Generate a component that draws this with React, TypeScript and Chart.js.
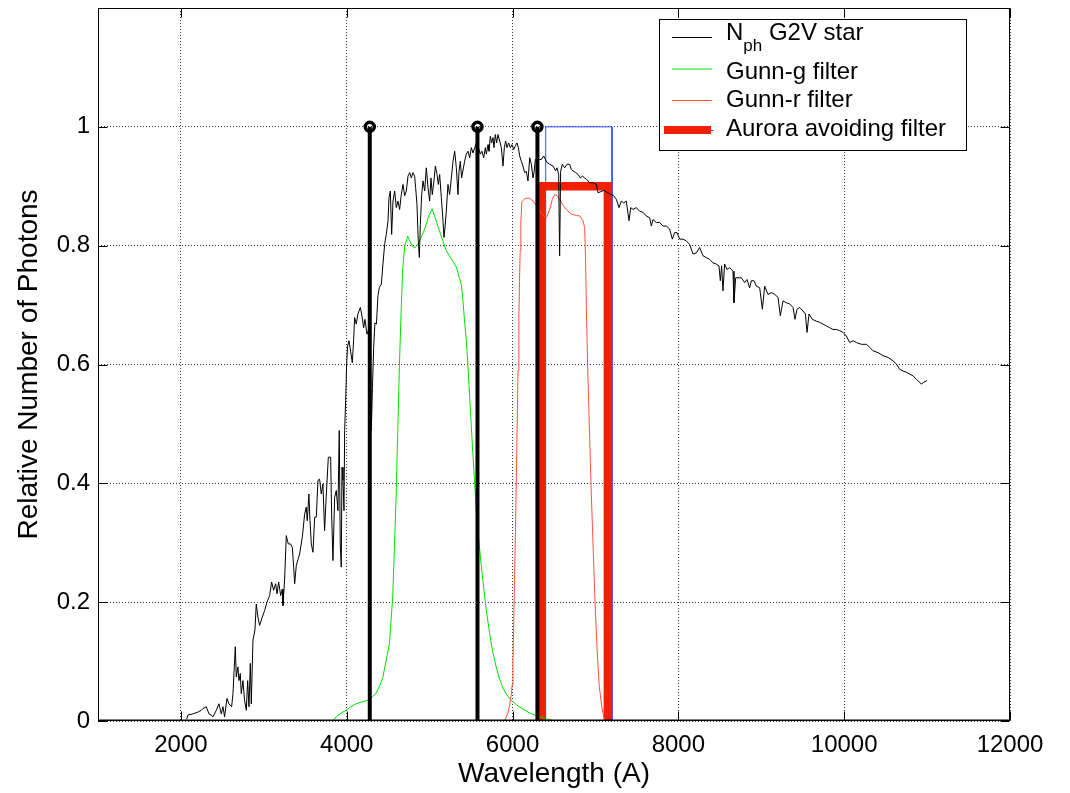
import React, { useEffect, useRef } from 'react';
import { Chart, registerables } from 'chart.js';

Chart.register(...registerables);

// ---------- data ----------
const starWavelength = [
  2070, 2085, 2145, 2206, 2246, 2266, 2306, 2338, 2366, 2386, 2427, 2459, 2487, 2507, 2527, 2555, 2579, 2612, 2628, 2640,
  2656, 2668, 2688, 2700, 2716, 2728, 2748, 2768, 2789, 2805, 2821, 2837, 2849, 2869, 2893, 2909, 2929, 2949, 2982, 3010,
  3038, 3070, 3094, 3118, 3143, 3159, 3179, 3203, 3223, 3231, 3251, 3271, 3295, 3323, 3344, 3360, 3372, 3392, 3432, 3464,
  3492, 3512, 3524, 3544, 3557, 3573, 3593, 3613, 3633, 3653, 3673, 3693, 3713, 3733, 3754, 3778, 3806, 3818, 3834, 3854,
  3874, 3894, 3910, 3922, 3934, 3943, 3955, 3967, 3975, 3987, 3999, 4011, 4027, 4043, 4067, 4083, 4095, 4115, 4135, 4164,
  4180, 4204, 4220, 4244, 4260, 4282, 4297, 4310, 4325, 4340, 4358, 4377, 4394, 4417, 4437, 4457, 4477, 4498, 4510, 4526,
  4542, 4558, 4578, 4598, 4618, 4638, 4658, 4679, 4699, 4719, 4739, 4759, 4779, 4799, 4819, 4831, 4847, 4863, 4876, 4888,
  4904, 4920, 4940, 4960, 4980, 5000, 5016, 5032, 5052, 5069, 5089, 5105, 5121, 5141, 5161, 5173, 5185, 5201, 5221, 5241,
  5262, 5282, 5302, 5322, 5342, 5354, 5370, 5386, 5422, 5442, 5463, 5483, 5503, 5523, 5563, 5595, 5611, 5631, 5652, 5672,
  5684, 5704, 5716, 5732, 5748, 5764, 5776, 5792, 5808, 5824, 5845, 5865, 5885, 5901, 5917, 5933, 5953, 5973, 5993, 6014,
  6034, 6054, 6070, 6086, 6106, 6126, 6146, 6166, 6186, 6207, 6227, 6247, 6259, 6275, 6295, 6327, 6347, 6375, 6415, 6448,
  6488, 6520, 6536, 6556, 6568, 6580, 6600, 6629, 6657, 6689, 6709, 6729, 6761, 6789, 6818, 6842, 6870, 6890, 6930, 6970,
  7011, 7031, 7100, 7160, 7220, 7252, 7284, 7312, 7340, 7372, 7405, 7425, 7453, 7493, 7533, 7573, 7613, 7654, 7674, 7694,
  7734, 7774, 7815, 7855, 7895, 7927, 7955, 7983, 8016, 8056, 8096, 8136, 8176, 8217, 8257, 8297, 8337, 8377, 8418, 8458,
  8490, 8506, 8522, 8538, 8558, 8586, 8619, 8659, 8671, 8691, 8719, 8759, 8800, 8828, 8860, 8880, 8912, 8940, 8981, 9013,
  9041, 9081, 9121, 9162, 9202, 9230, 9262, 9302, 9342, 9383, 9407, 9431, 9463, 9503, 9532, 9552, 9576, 9616, 9664, 9704,
  9745, 9785, 9825, 9865, 9905, 9946, 9986, 10026, 10066, 10107, 10147, 10207, 10267, 10308, 10348, 10408, 10468, 10529, 10589, 10629,
  10669, 10710, 10750, 10790, 10830, 10870, 10911, 10931, 10959, 10999,
];
const starValue = [
  0.003, 0.010, 0.012, 0.015, 0.018, 0.021, 0.024, 0.012, 0.010, 0.007, 0.018, 0.029, 0.012, 0.024, 0.007, 0.038, 0.029, 0.024, 0.046, 0.080,
  0.125, 0.074, 0.091, 0.068, 0.080, 0.046, 0.068, 0.035, 0.018, 0.068, 0.024, 0.097, 0.029, 0.136, 0.153, 0.197, 0.175, 0.161, 0.175, 0.186,
  0.200, 0.211, 0.234, 0.220, 0.231, 0.214, 0.234, 0.211, 0.222, 0.194, 0.239, 0.312, 0.298, 0.298, 0.292, 0.259, 0.231, 0.262, 0.281, 0.309,
  0.348, 0.360, 0.337, 0.382, 0.337, 0.298, 0.284, 0.343, 0.343, 0.405, 0.407, 0.382, 0.399, 0.320, 0.382, 0.444, 0.444, 0.348, 0.270, 0.376,
  0.388, 0.354, 0.489, 0.298, 0.259, 0.427, 0.405, 0.354, 0.489, 0.539, 0.601, 0.631, 0.640, 0.626, 0.603, 0.640, 0.679, 0.668, 0.685, 0.696,
  0.685, 0.662, 0.676, 0.651, 0.657, 0.620, 0.489, 0.560, 0.629, 0.670, 0.668, 0.716, 0.730, 0.735, 0.769, 0.802, 0.819, 0.842, 0.881, 0.892,
  0.819, 0.875, 0.892, 0.864, 0.875, 0.861, 0.886, 0.903, 0.884, 0.892, 0.917, 0.923, 0.914, 0.923, 0.917, 0.898, 0.870, 0.808, 0.780, 0.836,
  0.886, 0.909, 0.892, 0.931, 0.898, 0.875, 0.914, 0.886, 0.909, 0.934, 0.920, 0.903, 0.920, 0.881, 0.842, 0.814, 0.830, 0.858, 0.903, 0.886,
  0.914, 0.942, 0.959, 0.931, 0.886, 0.925, 0.942, 0.914, 0.942, 0.954, 0.959, 0.948, 0.965, 0.956, 0.973, 0.962, 0.954, 0.959, 0.948, 0.965,
  0.954, 0.970, 0.959, 0.984, 0.973, 0.982, 0.965, 0.987, 0.973, 0.987, 0.976, 0.965, 0.934, 0.965, 0.976, 0.965, 0.973, 0.965, 0.970, 0.962,
  0.968, 0.973, 0.965, 0.951, 0.942, 0.934, 0.923, 0.925, 0.909, 0.948, 0.937, 0.914, 0.923, 0.945, 0.942, 0.945, 0.945, 0.951, 0.940, 0.937,
  0.934, 0.926, 0.931, 0.920, 0.783, 0.925, 0.937, 0.931, 0.937, 0.937, 0.928, 0.926, 0.923, 0.920, 0.914, 0.917, 0.914, 0.912, 0.906, 0.906,
  0.903, 0.889, 0.893, 0.888, 0.884, 0.878, 0.864, 0.875, 0.872, 0.875, 0.842, 0.864, 0.861, 0.864, 0.858, 0.856, 0.850, 0.847, 0.833, 0.844,
  0.839, 0.839, 0.833, 0.833, 0.828, 0.811, 0.822, 0.822, 0.811, 0.811, 0.808, 0.802, 0.786, 0.788, 0.797, 0.783, 0.780, 0.777, 0.771, 0.769,
  0.766, 0.741, 0.766, 0.724, 0.769, 0.760, 0.763, 0.757, 0.704, 0.746, 0.746, 0.746, 0.738, 0.743, 0.729, 0.741, 0.741, 0.732, 0.729, 0.693,
  0.732, 0.718, 0.721, 0.718, 0.713, 0.682, 0.707, 0.704, 0.702, 0.696, 0.676, 0.693, 0.696, 0.690, 0.685, 0.654, 0.685, 0.676, 0.673, 0.671,
  0.668, 0.665, 0.662, 0.659, 0.659, 0.657, 0.654, 0.648, 0.637, 0.640, 0.637, 0.634, 0.634, 0.629, 0.623, 0.620, 0.615, 0.612, 0.606, 0.601,
  0.592, 0.589, 0.587, 0.584, 0.581, 0.575, 0.570, 0.567, 0.570, 0.573,
];

const gunnGWavelength = [
  3830, 3880, 3940, 3992, 4050, 4113, 4200, 4266, 4320, 4354, 4400, 4435, 4480, 4515, 4540, 4555, 4575, 4596, 4616, 4636,
  4656, 4675, 4700, 4736, 4760, 4797, 4830, 4870, 4938, 4990, 5030, 5060, 5099, 5150, 5199, 5260, 5322, 5360, 5382, 5400,
  5420, 5443, 5461, 5481, 5501, 5521, 5541, 5560, 5594, 5620, 5642, 5680, 5722, 5760, 5803, 5840, 5883, 5930, 5984, 6050,
  6125, 6200, 6286, 6400, 6500,
];
const gunnGValue = [
  0.000, 0.008, 0.014, 0.018, 0.024, 0.029, 0.033, 0.035, 0.042, 0.047, 0.060, 0.073, 0.105, 0.130, 0.180, 0.210, 0.290, 0.380, 0.490, 0.600,
  0.690, 0.760, 0.800, 0.816, 0.808, 0.798, 0.797, 0.805, 0.827, 0.850, 0.862, 0.850, 0.833, 0.812, 0.792, 0.778, 0.764, 0.745, 0.735, 0.710,
  0.675, 0.640, 0.600, 0.550, 0.500, 0.450, 0.406, 0.360, 0.304, 0.265, 0.237, 0.190, 0.149, 0.117, 0.091, 0.072, 0.056, 0.044, 0.035, 0.027,
  0.020, 0.014, 0.009, 0.004, 0.000,
];

const gunnRWavelength = [
  5903, 5940, 5964, 5985, 5996, 6005, 6012, 6024, 6036, 6046, 6056, 6066, 6076, 6084, 6092, 6100, 6113, 6140, 6165, 6206,
  6246, 6300, 6360, 6410, 6450, 6480, 6508, 6540, 6568, 6610, 6649, 6709, 6770, 6810, 6850, 6870, 6880, 6890, 6905, 6925,
  6950, 6975, 6995, 7020, 7045, 7075, 7110,
];
const gunnRValue = [
  0.000, 0.012, 0.026, 0.045, 0.061, 0.100, 0.149, 0.240, 0.325, 0.410, 0.500, 0.590, 0.675, 0.740, 0.792, 0.840, 0.874, 0.878, 0.880, 0.880,
  0.875, 0.865, 0.852, 0.847, 0.862, 0.878, 0.886, 0.884, 0.878, 0.868, 0.861, 0.853, 0.851, 0.850, 0.842, 0.830, 0.780, 0.700, 0.600, 0.500,
  0.383, 0.280, 0.200, 0.120, 0.060, 0.025, 0.000,
];

const auroraWavelength = [6350, 6350, 7150, 7150];
const auroraValue = [0, 0.9, 0.9, 0];

const passbandWavelength = [6400, 6400, 7200, 7200];
const passbandValue = [0, 1, 1, 0];

const emissionWavelength = [4278, 5577, 6300];
const emissionValue = [1, 1, 1];

const baselineWavelength = [1000, 12000];
const baselineValue = [0, 0];

const xTickValues = [2000, 4000, 6000, 8000, 10000, 12000];
const xTickLabels = ['2000', '4000', '6000', '8000', '10000', '12000'];
const yTickValues = [0, 0.2, 0.4, 0.6, 0.8, 1];
const yTickLabels = ['0', '0.2', '0.4', '0.6', '0.8', '1'];

const legendLabels = ['G2V star', 'Gunn-g filter', 'Gunn-r filter', 'Aurora avoiding filter'];

// ---------- styling ----------
const FONT = "'Liberation Sans', Arial, Helvetica, sans-serif";
const COLOR_STAR = '#000000';
const COLOR_G = 'rgb(0,225,0)';
const COLOR_R = 'rgb(255,80,60)';
const COLOR_AURORA = 'rgb(240,32,0)';
const COLOR_BLUE = 'rgb(40,80,255)';

const toPoints = (xs: number[], ys: number[]) => xs.map((x, i) => ({ x, y: ys[i] }));

const framePlugin = {
  id: 'frameAndLegend',
  afterDatasetsDraw(chart: any) {
    const { ctx, chartArea, scales } = chart;
    const { left, right, top, bottom } = chartArea;
    const x = scales.x;
    const y = scales.y;
    ctx.save();
    // box
    ctx.strokeStyle = '#000';
    ctx.lineWidth = 1;
    ctx.setLineDash([]);
    const L = Math.round(left) + 0.5;
    const R = Math.round(right) - 0.5;
    const T = Math.round(top) + 0.5;
    const B = Math.round(bottom) - 0.5;
    ctx.strokeRect(L, T, R - L, B - T);
    // inner tick marks
    const tl = 9;
    ctx.beginPath();
    xTickValues.forEach((v) => {
      const px = Math.round(x.getPixelForValue(v)) + 0.5;
      ctx.moveTo(px, B);
      ctx.lineTo(px, B - tl);
      ctx.moveTo(px, T);
      ctx.lineTo(px, T + tl);
    });
    yTickValues.forEach((v) => {
      const py = Math.round(y.getPixelForValue(v)) + 0.5;
      ctx.moveTo(L, py);
      ctx.lineTo(L + tl, py);
      ctx.moveTo(R, py);
      ctx.lineTo(R - tl, py);
    });
    ctx.stroke();

    // legend
    const bx = 659.5, by = 19.5, bw = 307, bh = 131;
    ctx.fillStyle = '#fff';
    ctx.fillRect(bx, by, bw, bh);
    ctx.strokeStyle = '#000';
    ctx.lineWidth = 1;
    ctx.strokeRect(bx, by, bw, bh);

    const lineYs = [37.5, 69, 100.5, 130];
    const baseYs = [39.5, 79, 107, 135.5];
    const colors = [COLOR_STAR, COLOR_G, COLOR_R, COLOR_AURORA];
    const widths = [1, 1, 1, 8];
    const textX = 726;
    for (let i = 0; i < 4; i++) {
      ctx.beginPath();
      ctx.strokeStyle = colors[i];
      ctx.lineWidth = widths[i];
      ctx.lineCap = 'butt';
      const x0 = i === 3 ? 664 : 672;
      ctx.moveTo(x0, lineYs[i]);
      ctx.lineTo(i === 3 ? 711 : 712, lineYs[i]);
      ctx.stroke();
      if (i === 3) {
        ctx.beginPath();
        ctx.strokeStyle = COLOR_BLUE;
        ctx.lineWidth = 1;
        ctx.moveTo(711, lineYs[i] + 0.5);
        ctx.lineTo(713.5, lineYs[i] + 0.5);
        ctx.stroke();
      }
      ctx.fillStyle = '#000';
      ctx.textBaseline = 'alphabetic';
      ctx.textAlign = 'left';
      if (i === 0) {
        ctx.font = `24px ${FONT}`;
        ctx.fillText('N', textX, baseYs[0]);
        const nw = ctx.measureText('N').width;
        const sp = ctx.measureText(' ').width;
        ctx.font = `17px ${FONT}`;
        ctx.fillText('ph', textX + nw, baseYs[0] + 11);
        const phw = ctx.measureText('ph').width;
        ctx.font = `24px ${FONT}`;
        ctx.fillText(legendLabels[0], textX + nw + phw + sp, baseYs[0]);
      } else {
        ctx.font = `24px ${FONT}`;
        ctx.fillText(legendLabels[i], textX, baseYs[i]);
      }
    }
    ctx.restore();
  },
};

export default function App() {
  const ref = useRef<HTMLCanvasElement>(null);

  useEffect(() => {
    if (!ref.current) return;
    const stemSegments: { x: number; y: number | null }[] = [];
    emissionWavelength.forEach((w, i) => {
      stemSegments.push({ x: w, y: 0 }, { x: w, y: emissionValue[i] }, { x: w, y: null });
    });

    const chart = new Chart(ref.current, {
      type: 'line',
      data: {
        datasets: [
          {
            label: 'stem lines',
            data: stemSegments as any,
            borderColor: '#000',
            borderWidth: 4,
            pointRadius: 0,
            spanGaps: false,
            order: 0,
          },
          {
            label: 'stem markers',
            data: toPoints(emissionWavelength, emissionValue),
            showLine: false,
            pointStyle: 'circle',
            pointRadius: 4.5,
            pointBorderWidth: 3.5,
            pointBorderColor: '#000',
            pointBackgroundColor: 'rgba(0,0,0,0)',
            order: 0,
          },
          {
            label: 'stem baseline',
            data: toPoints(baselineWavelength, baselineValue),
            borderColor: '#000',
            borderWidth: 3,
            pointRadius: 0,
            order: 0,
          },
          {
            label: 'Nph G2V star',
            data: toPoints(starWavelength, starValue),
            borderColor: COLOR_STAR,
            borderWidth: 1,
            pointRadius: 0,
            order: 1,
          },
          {
            label: 'Gunn-r filter',
            data: toPoints(gunnRWavelength, gunnRValue),
            borderColor: COLOR_R,
            borderWidth: 1,
            pointRadius: 0,
            order: 2,
          },
          {
            label: 'Gunn-g filter',
            data: toPoints(gunnGWavelength, gunnGValue),
            borderColor: COLOR_G,
            borderWidth: 1,
            pointRadius: 0,
            order: 3,
          },
          {
            label: 'Aurora avoiding filter',
            data: toPoints(auroraWavelength, auroraValue),
            borderColor: COLOR_AURORA,
            borderWidth: 8.5,
            borderJoinStyle: 'miter',
            borderCapStyle: 'butt',
            pointRadius: 0,
            order: 4,
          },
          {
            label: 'passband',
            data: toPoints(passbandWavelength, passbandValue),
            borderColor: COLOR_BLUE,
            borderWidth: 1,
            pointRadius: 0,
            order: 5,
          },
        ],
      },
      options: {
        animation: false,
        responsive: false,
        maintainAspectRatio: false,
        devicePixelRatio: 1,
        events: [],
        layout: { padding: { left: 0, right: 60, top: 8, bottom: 0 } },
        plugins: {
          legend: { display: false },
          tooltip: { enabled: false },
          title: { display: false },
        },
        scales: {
          x: {
            type: 'linear',
            min: 1000,
            max: 12000,
            afterBuildTicks: (scale: any) => {
              scale.ticks = xTickValues.map((v) => ({ value: v }));
            },
            afterFit: (scale: any) => {
              scale.height = 72;
              scale.paddingLeft = 0;
              scale.paddingRight = 0;
              scale.paddingTop = 0;
              scale.paddingBottom = 0;
            },
            ticks: {
              autoSkip: false,
              maxRotation: 0,
              minRotation: 0,
              padding: 10,
              color: '#000',
              font: { family: FONT, size: 24 },
              callback: (_v: any, i: number) => xTickLabels[i],
            },
            grid: {
              drawTicks: false,
              color: 'rgba(0,0,0,0.8)',
              lineWidth: 1,
            },
            border: { display: false, dash: [1, 2] },
            title: {
              display: true,
              text: 'Wavelength (A)',
              color: '#000',
              font: { family: FONT, size: 28 },
              padding: { top: 0, bottom: 2 },
            },
          },
          y: {
            type: 'linear',
            min: 0,
            max: 1.2,
            afterBuildTicks: (scale: any) => {
              scale.ticks = yTickValues.map((v) => ({ value: v }));
            },
            afterFit: (scale: any) => {
              scale.width = 98;
              scale.paddingLeft = 0;
              scale.paddingRight = 0;
              scale.paddingTop = 0;
              scale.paddingBottom = 0;
            },
            ticks: {
              autoSkip: false,
              padding: 8,
              color: '#000',
              font: { family: FONT, size: 24 },
              callback: (_v: any, i: number) => yTickLabels[i],
            },
            grid: {
              drawTicks: false,
              color: 'rgba(0,0,0,0.8)',
              lineWidth: 1,
            },
            border: { display: false, dash: [1, 2] },
            title: {
              display: true,
              text: 'Relative Number of Photons',
              color: '#000',
              font: { family: FONT, size: 28 },
              padding: { top: 12, bottom: 0 },
            },
          },
        },
      } as any,
      plugins: [framePlugin],
    });
    return () => chart.destroy();
  }, []);

  return (
    <div style={{ position: 'fixed', left: 0, top: 0, width: 1070, height: 793, background: '#fff' }}>
      <canvas ref={ref} width={1070} height={793} style={{ display: 'block', width: 1070, height: 793 }} />
    </div>
  );
}
